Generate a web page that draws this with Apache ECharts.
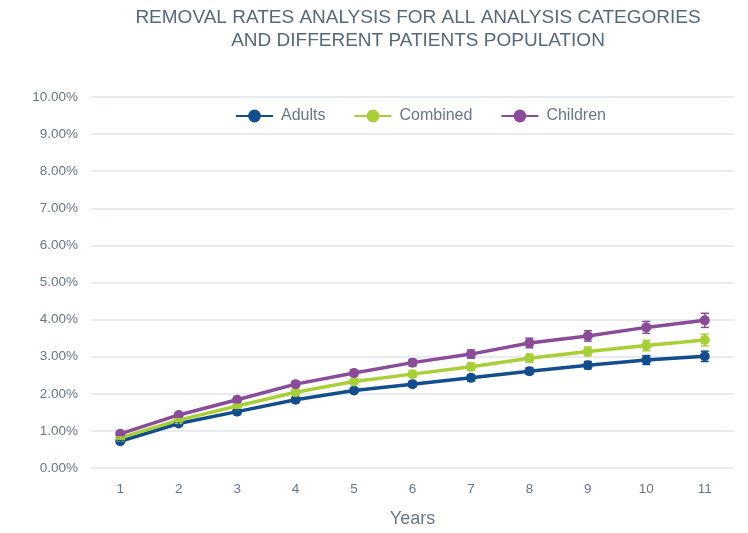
<!DOCTYPE html>
<html>
<head>
<meta charset="utf-8">
<script src="https://cdn.jsdelivr.net/npm/echarts@6/dist/echarts.min.js"></script>
<style>
  html, body { margin: 0; padding: 0; background: #fff; }
  #chart { width: 748px; height: 533px; }
</style>
</head>
<body>
<div id="chart"></div>
<script>
// ─── data ─────────────────────────────────────────────
const years      = ['1', '2', '3', '4', '5', '6', '7', '8', '9', '10', '11']
const adults     = [0.72, 1.20, 1.52, 1.84, 2.09, 2.26, 2.43, 2.61, 2.77, 2.91, 3.01]
const combined   = [0.81, 1.29, 1.67, 2.04, 2.33, 2.53, 2.73, 2.96, 3.14, 3.30, 3.45]
const children   = [0.92, 1.43, 1.84, 2.26, 2.56, 2.84, 3.07, 3.37, 3.56, 3.79, 3.98]
// half width of the error bars (percentage points)
const adultsErr   = [0.03, 0.04, 0.05, 0.05, 0.06, 0.07, 0.08, 0.09, 0.10, 0.12, 0.14]
const combinedErr = [0.03, 0.04, 0.05, 0.06, 0.07, 0.08, 0.10, 0.11, 0.12, 0.14, 0.16]
const childrenErr = [0.03, 0.04, 0.05, 0.07, 0.08, 0.09, 0.11, 0.13, 0.14, 0.16, 0.19]

const C_ADULTS   = '#124e8e'
const C_COMBINED = '#a9cf38'
const C_CHILDREN = '#8a4b98'
const TXT        = '#66778a'
const FONT       = '"Liberation Sans", Arial, sans-serif'

const chart = echarts.init(document.getElementById('chart'))

const lineSeries = (name, data, color) => ({
  name,
  type: 'line',
  data,
  symbol: 'circle',
  symbolSize: 10,
  lineStyle: { width: 3.5, color },
  itemStyle: { color },
  z: 3,
})

// error bars, drawn through the axes
const errSeries = (vals, errs, color) => ({
  type: 'custom',
  z: 4,
  silent: true,
  data: vals.map((v, i) => [i, v - errs[i], v + errs[i]]),
  renderItem: (params, api) => {
    const lo = api.coord([api.value(0), api.value(1)])
    const hi = api.coord([api.value(0), api.value(2)])
    const w = 4
    const style = { stroke: color, lineWidth: 1.5 }
    return {
      type: 'group',
      children: [
        { type: 'line', shape: { x1: lo[0], y1: lo[1], x2: hi[0], y2: hi[1] }, style },
        { type: 'line', shape: { x1: lo[0] - w, y1: lo[1], x2: lo[0] + w, y2: lo[1] }, style },
        { type: 'line', shape: { x1: hi[0] - w, y1: hi[1], x2: hi[0] + w, y2: hi[1] }, style },
      ],
    }
  },
})

chart.setOption({
  animation: false,
  title: {
    text: 'REMOVAL RATES ANALYSIS FOR ALL ANALYSIS CATEGORIES\nAND DIFFERENT PATIENTS POPULATION',
    left: 418,
    top: 6,
    padding: 0,
    textAlign: 'center',
    textStyle: { fontFamily: FONT, fontWeight: 'normal', fontSize: 19, lineHeight: 23, color: '#55697d' },
  },
  legend: {
    data: ['Adults', 'Combined', 'Children'],
    top: 108,
    left: 235,
    padding: 0,
    itemWidth: 37,
    itemHeight: 16,
    itemGap: 28,
    textStyle: { fontFamily: FONT, fontSize: 16, color: TXT, padding: [0, 0, 0, 3] },
  },
  grid: { left: 91, right: 14, top: 97, bottom: 65 },
  xAxis: {
    type: 'category',
    data: years,
    name: 'Years',
    nameLocation: 'middle',
    nameGap: 42,
    nameTextStyle: { fontFamily: FONT, fontSize: 18, color: TXT },
    axisLine: { show: false },
    axisTick: { show: false },
    axisLabel: { margin: 14, fontFamily: FONT, fontSize: 13.5, color: TXT },
  },
  yAxis: {
    type: 'value',
    min: 0,
    max: 10,
    interval: 1,
    axisLine: { show: false },
    axisTick: { show: false },
    axisLabel: {
      margin: 13,
      fontFamily: FONT,
      fontSize: 13.5,
      color: TXT,
      formatter: v => v.toFixed(2) + '%',
    },
    splitLine: { lineStyle: { color: '#dfe5eb', width: 1.5 } },
  },
  series: [
    lineSeries('Adults', adults, C_ADULTS),
    lineSeries('Combined', combined, C_COMBINED),
    lineSeries('Children', children, C_CHILDREN),
    errSeries(adults, adultsErr, C_ADULTS),
    errSeries(combined, combinedErr, C_COMBINED),
    errSeries(children, childrenErr, C_CHILDREN),
  ],
})
</script>
</body>
</html>
